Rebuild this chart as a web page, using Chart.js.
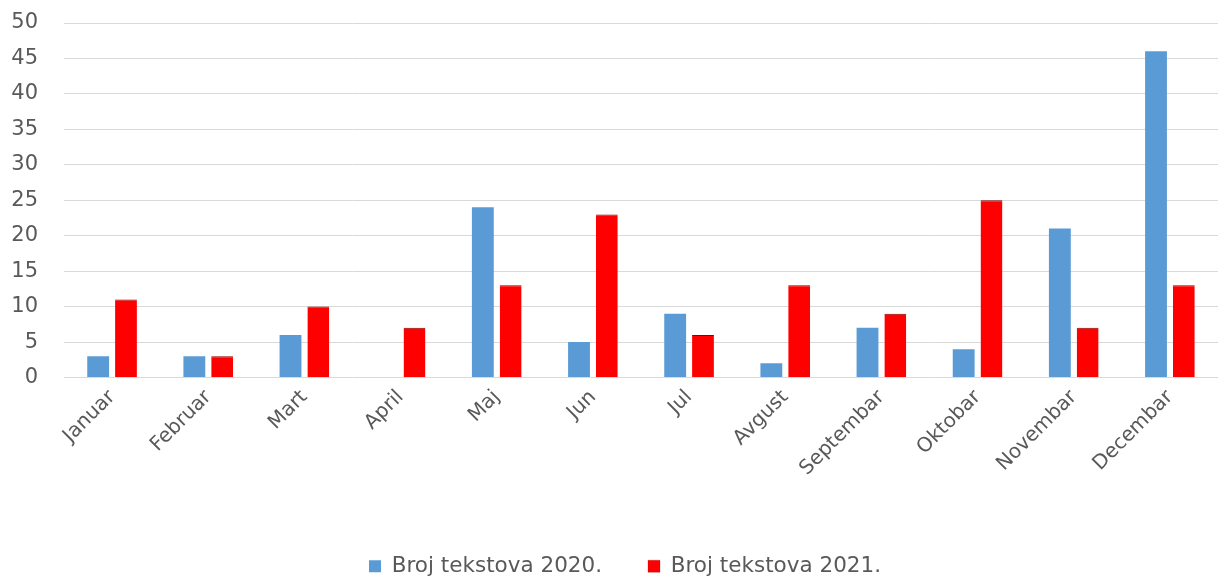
<!DOCTYPE html>
<html>
<head>
<meta charset="utf-8">
<script src="https://cdn.jsdelivr.net/npm/chart.js@4"></script>
<style>
html,body{margin:0;padding:0;background:#fff;overflow:hidden;}
#wrap{width:1218px;height:577px;position:relative;}
</style>
</head>
<body>
<div id="wrap"><canvas id="c" width="1218" height="577"></canvas></div>
<script>
const categories = ["Januar","Februar","Mart","April","Maj","Jun","Jul","Avgust","Septembar","Oktobar","Novembar","Decembar"];
const series2020 = [3,3,6,0,24,5,9,2,7,4,21,46];
const series2021 = [11,3,10,7,13,23,6,13,9,25,7,13];
const seriesNames = ["Broj tekstova 2020.","Broj tekstova 2021."];
const yTicks = [0,5,10,15,20,25,30,35,40,45,50];

const FONT = "'DejaVu Sans', sans-serif";
const TXT = "#595959";

const legendShift = {
  id: 'legendShift',
  afterLayout(chart) {
    if (chart.legend) { chart.legend.left += 12; chart.legend.right += 12; }
  }
};

new Chart(document.getElementById('c'), {
  type: 'bar',
  data: {
    labels: categories,
    datasets: [
      {label: seriesNames[0], data: series2020, backgroundColor: '#5B9BD5', borderWidth: 0,
       categoryPercentage: 0.5785, barPercentage: 0.786},
      {label: seriesNames[1], data: series2021, backgroundColor: '#FF0000',
       borderColor: '#8a0000', borderWidth: {top:1,left:0,right:0,bottom:0}, borderSkipped: 'bottom',
       categoryPercentage: 0.5785, barPercentage: 0.786}
    ]
  },
  plugins: [legendShift],
  options: {
    responsive: false,
    animation: false,
    devicePixelRatio: 1,
    layout: {padding: {top: 0, right: -8, bottom: -10, left: 0}},
    plugins: {
      tooltip: {enabled: false},
      legend: {
        position: 'bottom',
        labels: {
          boxWidth: 12, boxHeight: 12, padding: 46,
          color: TXT,
          font: {family: FONT, size: 21.5}
        }
      }
    },
    scales: {
      x: {
        grid: {display: false, drawTicks: false},
        border: {display: false},
        ticks: {
          color: TXT, font: {family: FONT, size: 20},
          maxRotation: 45, minRotation: 45, padding: 8, autoSkip: false
        },
        afterFit: (s) => { s.height = 132; }
      },
      y: {
        min: 0, max: 50,
        afterBuildTicks: (s) => { s.ticks = yTicks.map(v => ({value: v})); },
        grid: {color: '#d9d9d9', lineWidth: 1, drawTicks: false},
        border: {display: false},
        ticks: {color: TXT, font: {family: FONT, size: 21}, padding: 26},
        afterFit: (s) => { s.width = 64; s.paddingTop = 23; s.paddingBottom = 12; }
      }
    }
  }
});
</script>
</body>
</html>
